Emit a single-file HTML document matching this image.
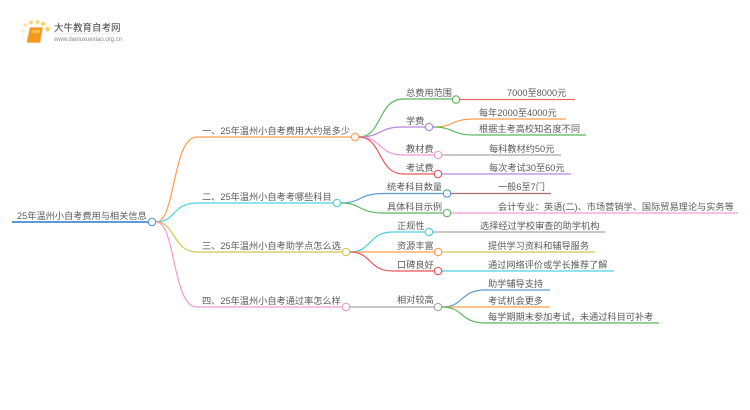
<!DOCTYPE html>
<html lang="zh">
<head>
<meta charset="utf-8">
<style>
html,body{margin:0;padding:0;background:#fff;width:750px;height:410px;overflow:hidden}
svg{display:block;filter:blur(.35px)}
text{font-family:"Liberation Sans","Noto Sans CJK SC",sans-serif;font-size:9.2px;fill:#5a5a5a}
path,line{fill:none;stroke-width:1.2}
circle{fill:#fff;stroke-width:1.2}
</style>
</head>
<body>
<svg width="750" height="410" viewBox="0 0 750 410" xmlns="http://www.w3.org/2000/svg">
<!-- logo -->
<g style="filter:blur(.4px)">
<circle cx="25" cy="25" r="1.6" style="fill:#fbd98a;stroke:none"/>
<circle cx="22.500" cy="31" r="1.3" style="fill:#fde3a8;stroke:none"/>
<circle cx="23" cy="37" r="1" style="fill:#fde9bd;stroke:none"/>
<circle cx="31" cy="22.500" r="2" style="fill:#fbd27a;stroke:none"/>
<circle cx="37.500" cy="22" r="2" style="fill:#fbd27a;stroke:none"/>
<circle cx="43" cy="24" r="2" style="fill:#fbcb66;stroke:none"/>
<circle cx="47.500" cy="29" r="2.300" style="fill:#fbc95c;stroke:none"/>
<path d="M30.500 28 H42 L39.500 42 H27.500 Z" style="fill:#f59a1c;stroke:#ec8a12"/>
<path d="M32.500 30 H40.500 L39.800 33 H31.800 Z" style="fill:#fbc451;stroke:none"/>
<line x1="54" y1="33.500" x2="120" y2="33.500" style="stroke:#dcdcdc;stroke-width:.8"/>
</g>
<text x="54" y="31" style="font-size:9.5px;fill:#444">大牛教育自考网</text>
<text x="54" y="41" style="font-size:6px;fill:#888">www.daniuxuexiao.org.cn</text>

<!-- root -->
<line x1="12" y1="222" x2="152" y2="222" style="stroke:#5b9bd5;stroke-width:2"/>
<!-- level 1 -->
<path d="M156 222 C176 222 172 137 197 137 L355 137" stroke="#ff9d4d"/>
<path d="M156 222 C176 222 172 203 197 203 L337 203" stroke="#4dd0e1"/>
<path d="M156 222 C176 222 172 252 197 252 L346 252" stroke="#cfc84f"/>
<path d="M156 222 C176 222 172 307 197 307 L346 307" stroke="#f29ad8"/>
<!-- level 2 branch 1 -->
<path d="M359 137 C382 137 378 99 403 99 L456 99" stroke="#5cb85c"/>
<path d="M359 137 C382 137 378 127 403 127 L429 127" stroke="#b388dd"/>
<path d="M359 137 C382 137 378 155 403 155 L438 155" stroke="#f29ad8"/>
<path d="M359 137 C382 137 378 174 403 174 L438 174" stroke="#e8585a"/>
<!-- leaves branch 1 -->
<line x1="456" y1="99.500" x2="575" y2="99.500" stroke="#e8686a"/>
<path d="M433 127 C455 127 450 119 475 119 L566 119" stroke="#ff9d4d"/>
<path d="M433 127 C455 127 450 135 475 135 L586 135" stroke="#5cb85c"/>
<line x1="438" y1="155" x2="561" y2="155" stroke="#a6a6a6"/>
<line x1="438" y1="174" x2="571" y2="174" stroke="#b388dd"/>
<!-- branch 2 -->
<path d="M341 203 C362 203 358 193.500 384 193.500 L447 193.500" stroke="#5b9bd5"/>
<path d="M341 203 C362 203 358 213 384 213 L447 213" stroke="#5cb85c"/>
<line x1="447" y1="193.500" x2="551" y2="193.500" stroke="#a0706a"/>
<line x1="447" y1="213" x2="738" y2="213" stroke="#f29ad8"/>
<!-- branch 3 -->
<path d="M350 252 C372 252 368 232 393 232 L429 232" stroke="#4dd0e1"/>
<path d="M350 252 L438 252" stroke="#ff9d4d"/>
<path d="M350 252 C372 252 368 271 393 271 L438 271" stroke="#e8585a"/>
<line x1="429" y1="232" x2="605" y2="232" stroke="#a6a6a6"/>
<line x1="438" y1="252" x2="595" y2="252" stroke="#cfc84f"/>
<line x1="438" y1="271" x2="614" y2="271" stroke="#4dd0e1"/>
<!-- branch 4 -->
<line x1="346" y1="307" x2="438" y2="307" stroke="#a6a6a6"/>
<path d="M442 307 C464 307 460 290 485 290 L550 290" stroke="#5b9bd5"/>
<line x1="442" y1="307" x2="550" y2="307" stroke="#ff9d4d"/>
<path d="M442 307 C464 307 460 323 485 323 L659 323" stroke="#5cb85c"/>
<!-- nodes -->
<circle cx="152" cy="222" r="3.700" stroke="#5b9bd5"/>
<circle cx="355" cy="137" r="3.700" stroke="#ff9d4d"/>
<circle cx="337" cy="203" r="3.700" stroke="#4dd0e1"/>
<circle cx="346" cy="252" r="3.700" stroke="#cfc84f"/>
<circle cx="346" cy="307" r="3.700" stroke="#f29ad8"/>
<circle cx="456" cy="99.500" r="3.700" stroke="#5cb85c"/>
<circle cx="429" cy="127" r="3.700" stroke="#b388dd"/>
<circle cx="438" cy="155" r="3.700" stroke="#f29ad8"/>
<circle cx="438" cy="174" r="3.700" stroke="#e8585a"/>
<circle cx="447" cy="193.500" r="3.700" stroke="#5b9bd5"/>
<circle cx="447" cy="213" r="3.700" stroke="#5cb85c"/>
<circle cx="429" cy="232" r="3.700" stroke="#4dd0e1"/>
<circle cx="438" cy="252" r="3.700" stroke="#ff9d4d"/>
<circle cx="438" cy="271" r="3.700" stroke="#e8585a"/>
<circle cx="438" cy="307" r="3.700" stroke="#a6a6a6"/>
<!-- labels -->
<text x="17" y="219">25年温州小自考费用与相关信息</text>
<text x="202" y="134">一、25年温州小自考费用大约是多少</text>
<text x="202" y="200">二、25年温州小自考考哪些科目</text>
<text x="202" y="249">三、25年温州小自考助学点怎么选</text>
<text x="202" y="304">四、25年温州小自考通过率怎么样</text>
<text x="406" y="96">总费用范围</text>
<text x="507" y="96">7000至8000元</text>
<text x="406" y="124">学费</text>
<text x="479" y="116">每年2000至4000元</text>
<text x="479" y="132">根据主考高校知名度不同</text>
<text x="406" y="152">教材费</text>
<text x="489" y="152">每科教材约50元</text>
<text x="406" y="171">考试费</text>
<text x="489" y="171">每次考试30至60元</text>
<text x="387" y="190">统考科目数量</text>
<text x="498" y="190">一般6至7门</text>
<text x="387" y="210">具体科目示例</text>
<text x="498" y="210">会计专业：英语(二)、市场营销学、国际贸易理论与实务等</text>
<text x="397" y="229">正规性</text>
<text x="480" y="229">选择经过学校审查的助学机构</text>
<text x="397" y="249">资源丰富</text>
<text x="488" y="249">提供学习资料和辅导服务</text>
<text x="397" y="268">口碑良好</text>
<text x="488" y="268">通过网络评价或学长推荐了解</text>
<text x="397" y="303">相对较高</text>
<text x="488" y="287">助学辅导支持</text>
<text x="488" y="304">考试机会更多</text>
<text x="488" y="320">每学期期末参加考试，未通过科目可补考</text>
</svg>
</body>
</html>
